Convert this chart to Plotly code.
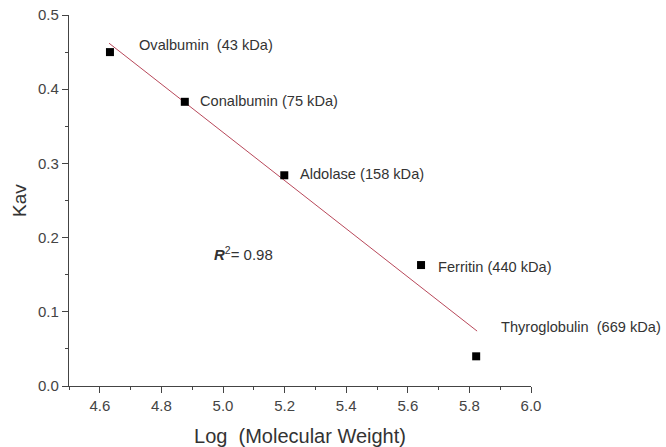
import plotly.graph_objects as go

proteins = ["Ovalbumin  (43 kDa)", "Conalbumin (75 kDa)", "Aldolase (158 kDa)",
            "Ferritin (440 kDa)", "Thyroglobulin  (669 kDa)"]
log_mw = [4.633, 4.876, 5.199, 5.643, 5.822]
kav = [0.450, 0.383, 0.284, 0.163, 0.040]

fit_x = [4.63, 5.825]
fit_y = [0.462, 0.074]

r2_text = "<b><i>R</i></b><sup>2</sup>= 0.98"
r2_pos = (4.965, 0.179)

x_ticks = [4.6, 4.8, 5.0, 5.2, 5.4, 5.6, 5.8, 6.0]
y_ticks = [0.0, 0.1, 0.2, 0.3, 0.4, 0.5]

# label offsets (pixels) relative to each point
label_dx = [27, 13, 14, 15, 23]
label_dy = [7, 1, 1, -2, 29]

FONT = "Liberation Sans, Arial"

fig = go.Figure()
fig.add_trace(go.Scatter(x=fit_x, y=fit_y, mode="lines",
                         line=dict(color="#b8485a", width=1), showlegend=False))
fig.add_trace(go.Scatter(x=log_mw, y=kav, mode="markers",
                         marker=dict(symbol="square", size=8, color="black"),
                         showlegend=False, cliponaxis=False))

for name, x, y, dx, dy in zip(proteins, log_mw, kav, label_dx, label_dy):
    fig.add_annotation(x=x, y=y, text=name, showarrow=False, xanchor="left",
                       yanchor="middle", xshift=dx, yshift=dy,
                       font=dict(family=FONT, size=14.6, color="#333"))

fig.add_annotation(x=r2_pos[0], y=r2_pos[1], text=r2_text, showarrow=False,
                   xanchor="left", yanchor="middle",
                   font=dict(family=FONT, size=15, color="#333"))

axis_common = dict(showgrid=False, zeroline=False, showline=True, linecolor="#444",
                   linewidth=1.2, ticks="outside", ticklen=6, tickcolor="#444",
                   tickfont=dict(family=FONT, size=15, color="#444"),
                   minor=dict(ticks="outside", ticklen=3, tickcolor="#444"),
                   automargin=False)

fig.update_xaxes(range=[4.5, 6.0], tickvals=x_ticks, ticktext=[f"{v:.1f}" for v in x_ticks],
                 minor_dtick=0.1, minor_tick0=4.5,
                 title=dict(text="Log  (Molecular Weight)", standoff=15,
                            font=dict(family=FONT, size=20, color="#333")),
                 **axis_common)
fig.update_yaxes(range=[0, 0.5], tickvals=y_ticks, ticktext=[f"{v:.1f}" for v in y_ticks],
                 minor_dtick=0.05, minor_tick0=0,
                 title=dict(text="Kav", standoff=6,
                            font=dict(family=FONT, size=19, color="#333")),
                 **axis_common)

fig.update_layout(width=666, height=447, margin=dict(l=69, r=135, t=15, b=61),
                  paper_bgcolor="white", plot_bgcolor="white")

fig.write_html("out.html")
